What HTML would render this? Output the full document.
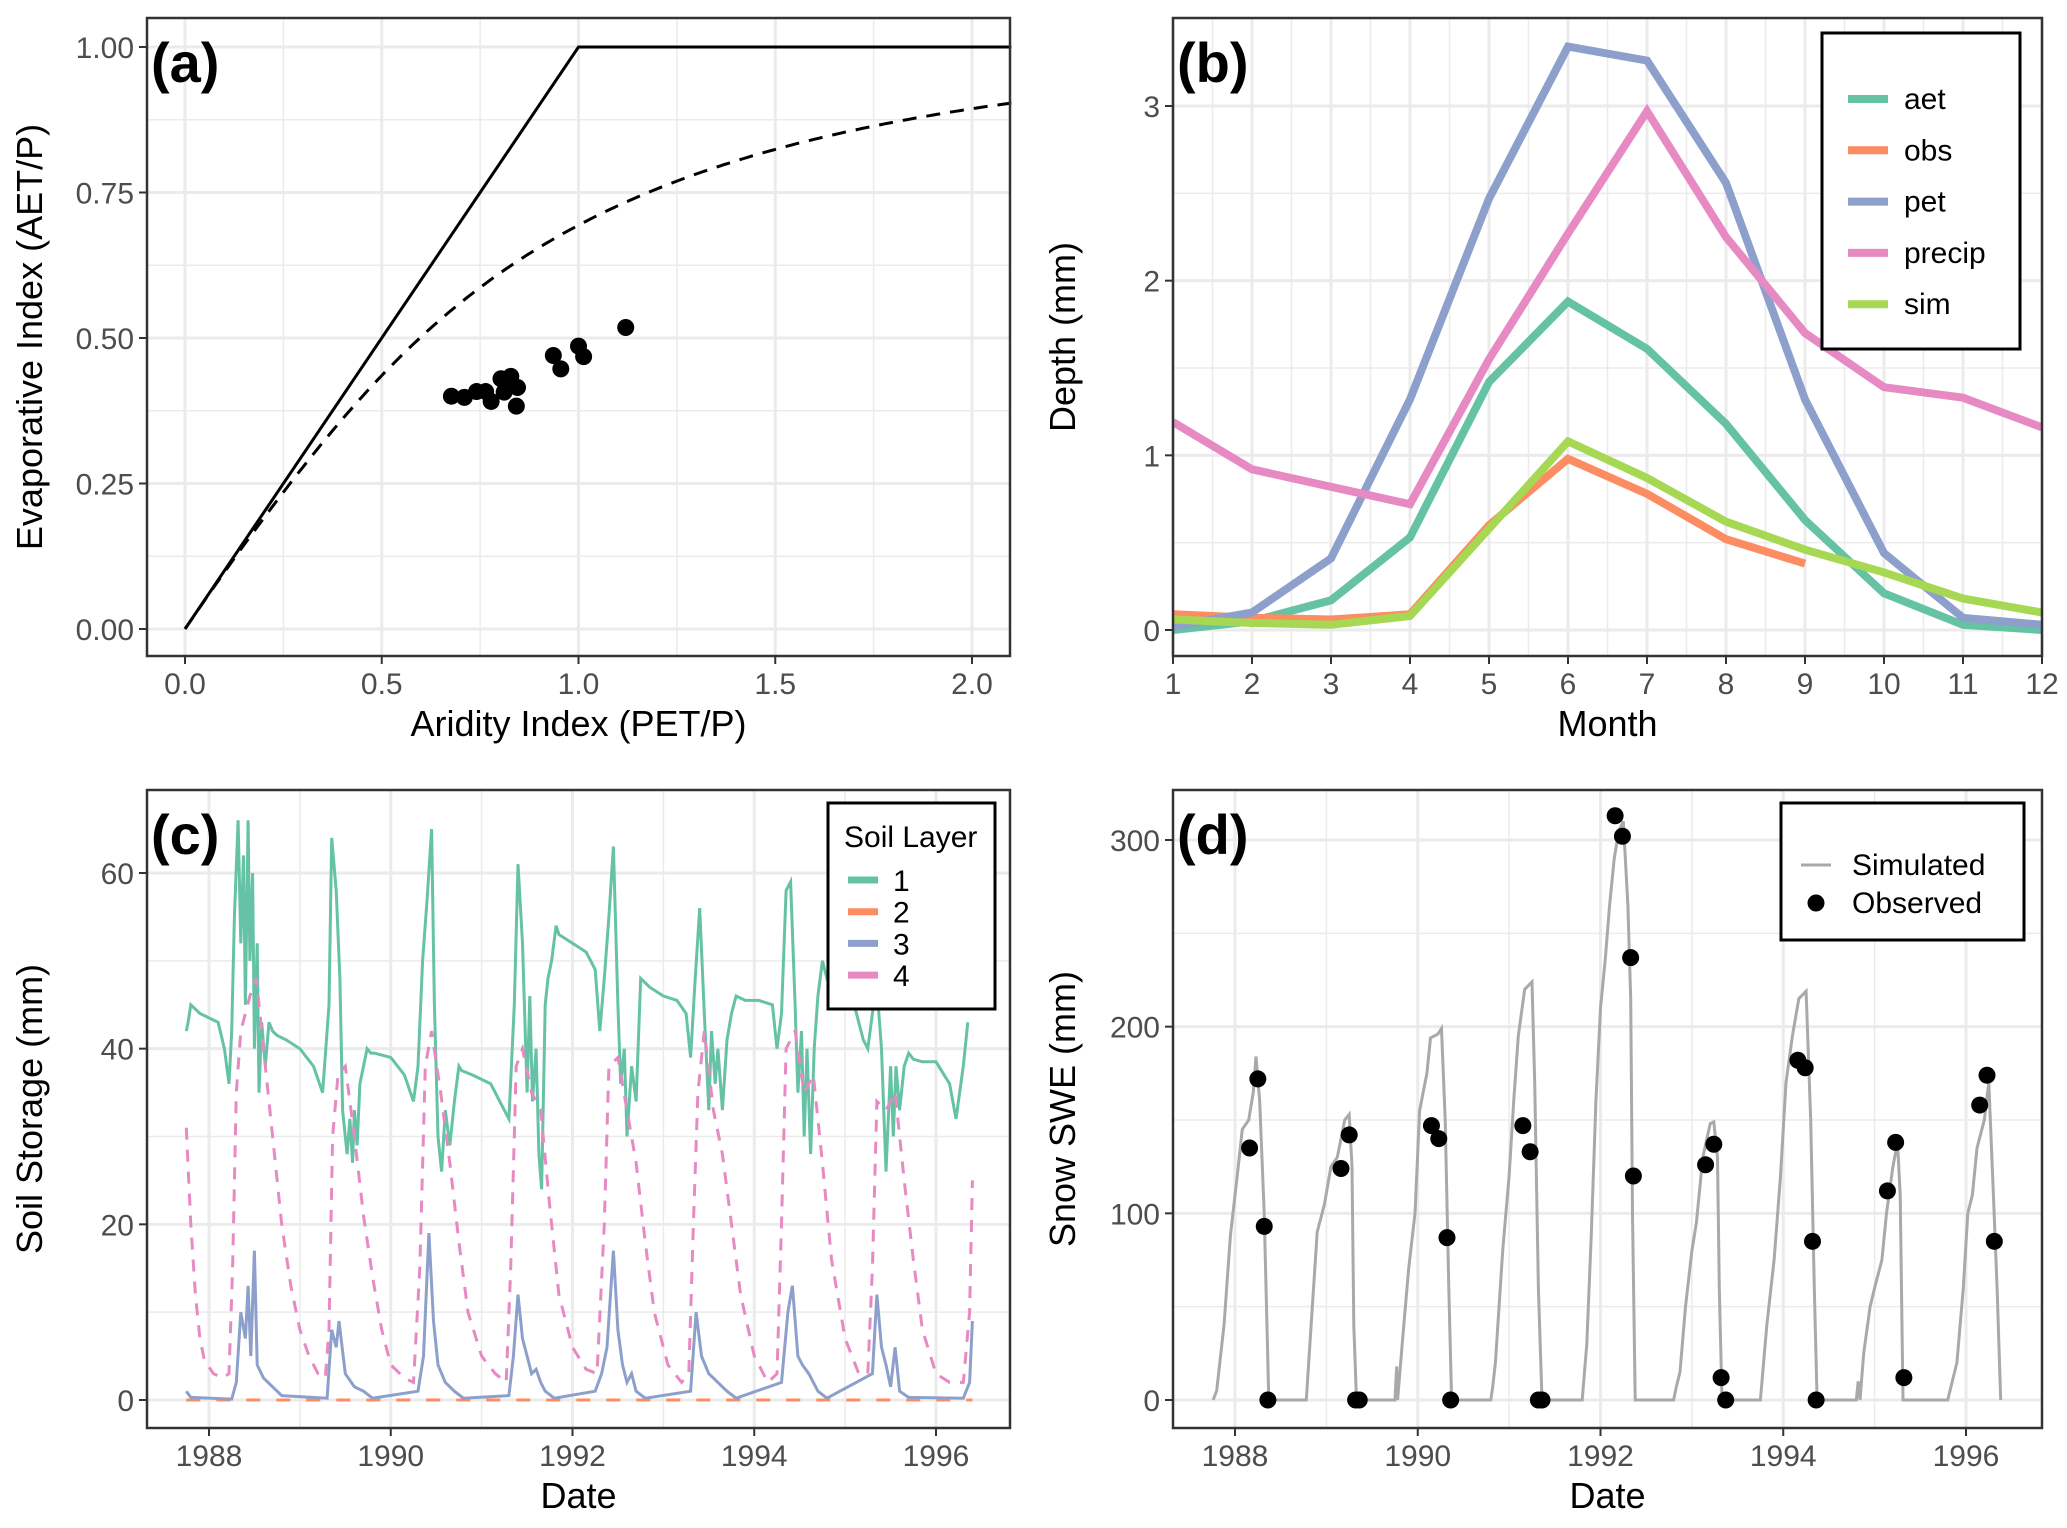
<!DOCTYPE html>
<html><head><meta charset="utf-8">
<style>
html,body{margin:0;padding:0;background:#fff;}
svg{display:block;font-family:"Liberation Sans",sans-serif;}
.tick{font-size:30px;fill:#4d4d4d;}
.atitle{font-size:36px;fill:#000;}
.tag{font-size:56px;font-weight:bold;fill:#000;}
.leg{font-size:30px;fill:#000;}
</style></head>
<body>
<svg id="fig" width="2067" height="1528" viewBox="0 0 2067 1528" xmlns="http://www.w3.org/2000/svg"></svg>
<script>
// ---------- Panel (a) data ----------
const aPtsX = [0.677,0.710,0.741,0.764,0.778,0.803,0.828,0.811,0.845,0.842,0.820,0.936,0.955,1.0,1.013,1.120];
const aPtsY = [0.400,0.398,0.408,0.408,0.391,0.430,0.434,0.407,0.415,0.383,0.419,0.470,0.447,0.486,0.468,0.518];
const aXTicks = [0,0.5,1.0,1.5,2.0];
const aXTickLabels = ["0.0","0.5","1.0","1.5","2.0"];
const aYTicks = [0,0.25,0.5,0.75,1.0];
const aYTickLabels = ["0.00","0.25","0.50","0.75","1.00"];
// ---------- Panel (b) data ----------
const months = [1,2,3,4,5,6,7,8,9,10,11,12];
const aetVals = [0.0,0.05,0.17,0.53,1.42,1.88,1.61,1.18,0.63,0.21,0.03,0.0];
const obsVals = [0.09,0.07,0.06,0.09,0.60,0.98,0.78,0.52,0.38];
const petVals = [0.02,0.10,0.41,1.32,2.47,3.34,3.26,2.56,1.32,0.44,0.07,0.03];
const precipVals = [1.19,0.92,0.82,0.72,1.55,2.27,2.97,2.25,1.70,1.39,1.33,1.16];
const simVals = [0.06,0.04,0.03,0.08,0.58,1.08,0.87,0.62,0.46,0.33,0.18,0.10];
const bYTicks = [0,1,2,3];
// ---------- Panel (c) data ----------
const l1Dates = [1987.75,1987.77,1987.8,1987.9,1988.0,1988.1,1988.17,1988.22,1988.25,1988.28,1988.32,1988.35,1988.38,1988.4,1988.43,1988.45,1988.48,1988.5,1988.53,1988.55,1988.58,1988.62,1988.66,1988.7,1988.75,1988.85,1989.0,1989.15,1989.25,1989.32,1989.35,1989.4,1989.44,1989.47,1989.52,1989.55,1989.58,1989.6,1989.63,1989.66,1989.7,1989.74,1989.78,1989.82,1990.0,1990.15,1990.25,1990.3,1990.35,1990.4,1990.45,1990.48,1990.52,1990.56,1990.6,1990.65,1990.7,1990.75,1990.78,1990.9,1991.1,1991.2,1991.3,1991.36,1991.4,1991.45,1991.5,1991.53,1991.56,1991.6,1991.63,1991.66,1991.7,1991.73,1991.77,1991.82,1991.85,1992.0,1992.15,1992.25,1992.3,1992.35,1992.4,1992.45,1992.5,1992.53,1992.57,1992.6,1992.65,1992.7,1992.75,1992.85,1993.0,1993.15,1993.25,1993.3,1993.35,1993.4,1993.45,1993.5,1993.53,1993.57,1993.6,1993.65,1993.7,1993.75,1993.8,1993.9,1994.05,1994.2,1994.25,1994.3,1994.35,1994.4,1994.45,1994.48,1994.52,1994.55,1994.58,1994.62,1994.66,1994.7,1994.75,1994.8,1994.9,1995.0,1995.1,1995.2,1995.25,1995.3,1995.35,1995.4,1995.45,1995.5,1995.53,1995.56,1995.6,1995.65,1995.7,1995.75,1995.85,1996.0,1996.15,1996.22,1996.3,1996.35,1996.38,1996.4];
const l1Vals = [42,43,45,44,43.5,43,40,36,42,55,66,52,62,45,66,50,60,40,52,35,43,38,43,42,41.5,41,40,38,35,45,64,58,48,33,28,32,27,33,29,36,38,40,39.5,39.5,39,37,34,38,50,57,65,45,30,26,33,29,34,38,37.5,37,36,34,32,45,61,52,35,46,34,40,28,24,45,48,50,54,53,52,51,49,42,48,55,63,45,36,40,30,38,34,48,47,46,45.5,44,39,48,56,44,33,42,36,40,33,41,44,46,45.5,45.5,45,40,44,58,59,45,35,42,30,40,28,40,46,50,48,49,47,45,41,40,44,47,40,26,38,30,38,33,38,39.5,38.8,38.5,38.5,36,32,38,43];
const l4Dates = [1987.75,1987.8,1987.85,1987.9,1987.95,1988.05,1988.15,1988.22,1988.26,1988.3,1988.35,1988.45,1988.52,1988.6,1988.7,1988.8,1988.9,1989.0,1989.1,1989.2,1989.28,1989.32,1989.36,1989.42,1989.5,1989.6,1989.7,1989.8,1989.9,1990.0,1990.15,1990.25,1990.32,1990.38,1990.45,1990.55,1990.65,1990.75,1990.85,1991.0,1991.15,1991.27,1991.32,1991.38,1991.45,1991.55,1991.65,1991.75,1991.85,1992.0,1992.15,1992.27,1992.35,1992.4,1992.5,1992.6,1992.7,1992.8,1992.9,1993.05,1993.2,1993.28,1993.33,1993.38,1993.45,1993.55,1993.65,1993.75,1993.85,1994.0,1994.15,1994.25,1994.3,1994.35,1994.45,1994.55,1994.65,1994.75,1994.85,1995.0,1995.15,1995.25,1995.3,1995.35,1995.45,1995.55,1995.65,1995.75,1995.85,1996.0,1996.15,1996.3,1996.37,1996.4];
const l4Vals = [31,20,12,7,4.5,3,2.5,3,15,35,42,46,48,40,30,20,13,8,5,3,2.5,8,30,37,38,30,21,14,8,4,2.5,2,15,38,42,35,27,18,10,5,3,2,15,38,40,35,33,22,12,6,3.5,3,20,38,39,33,27,18,10,4,2,3,20,35,42,33,28,20,12,5,2,3,20,40,42,35,37,27,16,7,3,3,15,34,33,35,25,16,8,3,2,2,10,25];
const l3Dates = [1987.75,1987.8,1988.25,1988.3,1988.35,1988.4,1988.43,1988.46,1988.5,1988.53,1988.6,1988.7,1988.8,1989.3,1989.35,1989.4,1989.43,1989.5,1989.6,1989.7,1989.8,1990.3,1990.36,1990.42,1990.47,1990.52,1990.6,1990.7,1990.8,1991.3,1991.35,1991.4,1991.45,1991.5,1991.55,1991.6,1991.65,1991.7,1991.8,1992.25,1992.32,1992.38,1992.45,1992.5,1992.55,1992.6,1992.65,1992.7,1992.8,1993.3,1993.36,1993.42,1993.5,1993.55,1993.6,1993.7,1993.8,1994.3,1994.37,1994.42,1994.48,1994.53,1994.6,1994.7,1994.8,1995.3,1995.35,1995.4,1995.45,1995.5,1995.55,1995.6,1995.7,1996.3,1996.37,1996.4];
const l3Vals = [1,0.3,0.1,2,10,7,13,5,17,4,2.5,1.5,0.5,0.2,8,6,9,3,1.5,1,0.2,1,5,19,9,4,2,1,0.2,0.5,5,12,7,5,3,3.5,2,1,0.2,1,3,6,17,8,4,2,3,1,0.2,1,10,5,3,2.5,2,1,0.2,2,10,13,5,4,3,1,0.2,3,12,6,4,1.5,6,1,0.3,0.2,2,9];
const l2Dates = [1987.75,1996.4];
const l2Vals = [0,0];
const yearTicks = [1988,1990,1992,1994,1996];
const cYTicks = [0,20,40,60];
// ---------- Panel (d) data ----------
const swSimDates = [1987.76,1987.8,1987.88,1987.95,1988.02,1988.08,1988.15,1988.2,1988.23,1988.27,1988.32,1988.37,1988.78,1988.82,1988.9,1988.98,1989.05,1989.12,1989.2,1989.25,1989.28,1989.3,1989.33,1989.75,1989.77,1989.78,1989.83,1989.9,1989.97,1990.02,1990.1,1990.14,1990.22,1990.26,1990.3,1990.34,1990.37,1990.8,1990.82,1990.85,1990.93,1991.0,1991.05,1991.1,1991.17,1991.25,1991.28,1991.32,1991.36,1991.8,1991.85,1991.9,1991.95,1992.0,1992.05,1992.1,1992.15,1992.2,1992.25,1992.3,1992.33,1992.35,1992.38,1992.8,1992.83,1992.87,1992.93,1993.0,1993.05,1993.12,1993.2,1993.24,1993.28,1993.3,1993.33,1993.75,1993.82,1993.9,1993.97,1994.03,1994.1,1994.17,1994.25,1994.3,1994.34,1994.37,1994.8,1994.82,1994.84,1994.88,1994.95,1995.0,1995.08,1995.13,1995.2,1995.25,1995.28,1995.31,1995.8,1995.85,1995.9,1995.97,1996.02,1996.07,1996.12,1996.2,1996.25,1996.3,1996.34,1996.38];
const swSimVals = [0,5,40,88,118,145,150,165,184,160,100,0,0,30,90,105,125,130,150,153,125,40,0,0,18,0,30,70,100,155,175,194,196,199,150,60,0,0,7,20,80,120,160,195,220,224,170,60,0,0,30,90,160,210,235,265,290,305,310,265,215,100,0,0,7,15,50,80,95,130,148,149,130,60,0,0,40,75,120,170,195,215,219,150,60,0,0,10,0,25,50,60,75,100,125,138,110,0,0,10,20,60,100,110,135,150,170,110,60,0];
const swObsDates = [1988.16,1988.25,1988.32,1988.36,1989.16,1989.25,1989.32,1989.36,1990.15,1990.23,1990.32,1990.36,1991.15,1991.23,1991.32,1991.36,1992.16,1992.24,1992.33,1992.36,1993.15,1993.24,1993.32,1993.37,1994.16,1994.24,1994.32,1994.36,1995.14,1995.23,1995.32,1996.15,1996.23,1996.31];
const swObsVals = [135,172,93,0,124,142,0,0,147,140,87,0,147,133,0,0,313,302,237,120,126,137,12,0,182,178,85,0,112,138,12,158,174,85];
const dYTicks = [0,100,200,300];

const NS = "http://www.w3.org/2000/svg";
const fig = document.getElementById("fig");
function mk(tag, attrs, parent){ const e=document.createElementNS(NS,tag); for(const k in attrs) e.setAttribute(k,attrs[k]); (parent||fig).appendChild(e); return e; }
function txt(s, attrs, parent){ const e=mk("text",attrs,parent); e.textContent=s; return e; }
function lin(d0,d1,r0,r1){ return v => r0 + (v-d0)/(d1-d0)*(r1-r0); }
function pathD(xs, ys, X, Y){ return xs.map((v,i)=>(i?"L":"M")+X(v).toFixed(1)+","+Y(ys[i]).toFixed(1)).join(""); }
const GRID="#ebebeb";

function panelFrame(g, box, X, Y, xMaj, xMin, yMaj, yMin){
  yMin.forEach(v=>{ const l=mk("line",{x1:box.l,x2:box.r,y1:Y(v),y2:Y(v),stroke:GRID,"stroke-width":1.5},g);
    
     });
  xMin.forEach(v=>{ const l=mk("line",{x1:X(v),x2:X(v),y1:box.t,y2:box.b,stroke:GRID,"stroke-width":1.5},g);
    
     });
  yMaj.forEach(v=>{ const l=mk("line",{x1:box.l,x2:box.r,y1:Y(v),y2:Y(v),stroke:GRID,"stroke-width":3},g);
    
     });
  xMaj.forEach(v=>{ const l=mk("line",{x1:X(v),x2:X(v),y1:box.t,y2:box.b,stroke:GRID,"stroke-width":3},g);
    
     });
}
function axes(g, box, X, Y, xT, xL, yT, yL, xTitle, yTitle, tag){
  const r=mk("rect",{x:box.l,y:box.t,width:box.r-box.l,height:box.b-box.t,fill:"none",stroke:"#333","stroke-width":2.5},g);
  
  
  xT.forEach((v,i)=>{ mk("line",{x1:X(v),x2:X(v),y1:box.b,y2:box.b+8,stroke:"#333","stroke-width":2},g);
    const t=txt(xL[i],{x:X(v),y:box.b+38,"text-anchor":"middle",class:"tick"},g);
    
     });
  yT.forEach((v,i)=>{ mk("line",{x1:box.l-8,x2:box.l,y1:Y(v),y2:Y(v),stroke:"#333","stroke-width":2},g);
    const t=txt(yL[i],{x:box.l-13,y:Y(v)+11,"text-anchor":"end",class:"tick"},g);
    
     });
  const xt=txt(xTitle,{x:(box.l+box.r)/2,y:box.b+80,"text-anchor":"middle",class:"atitle"},g);
  
  
  const cy=(box.t+box.b)/2, cx=box.yTitleX;
  const yt=txt(yTitle,{x:cx,y:cy,"text-anchor":"middle",class:"atitle",transform:`rotate(-90 ${cx} ${cy})`},g);
  
  
  const tg=txt(tag,{x:box.l+4,y:box.t+64,class:"tag"},g);
  
  
}

// ===== Panel A =====
(function(){
  const g=mk("g",{});  
  const box={l:147,r:1010,t:18,b:656,yTitleX:42};
  const X=lin(0,2,185,972), Y=lin(0,1,629,47);
  panelFrame(g,box,X,Y,aXTicks,[0.25,0.75,1.25,1.75],aYTicks,[0.125,0.375,0.625,0.875]);
  const lim=mk("path",{d:pathD([0,1,2.1],[0,1,1],X,Y),fill:"none",stroke:"#000","stroke-width":3},g);
  
  
  const bx=[],by=[];
  for(let i=1;i<=210;i++){ const p=i/100; bx.push(p); by.push(Math.sqrt(p*Math.tanh(1/p)*(1-Math.exp(-p)))); }
  bx.unshift(0); by.unshift(0);
  const bud=mk("path",{d:pathD(bx,by,X,Y),fill:"none",stroke:"#000","stroke-width":3,"stroke-dasharray":"14 10"},g);
  
  
  aPtsX.forEach((v,i)=>{ const c=mk("circle",{cx:X(v),cy:Y(aPtsY[i]),r:8.5,fill:"#000"},g);
    
     });
  axes(g,box,X,Y,aXTicks,aXTickLabels,aYTicks,aYTickLabels,"Aridity Index (PET/P)","Evaporative Index (AET/P)","(a)");
})();

// ===== Panel B =====
(function(){
  const g=mk("g",{});  
  const box={l:1173,r:2042,t:18,b:656,yTitleX:1075};
  const X=lin(1,12,1173,2042), Y=lin(0,3,630,106);
  const xMin=[]; for(let m=1.5;m<12;m++) xMin.push(m);
  panelFrame(g,box,X,Y,months,xMin,bYTicks,[0.5,1.5,2.5,3.5].filter(v=>Y(v)>box.t));
  const series=[["aet",aetVals,"#66c2a5"],["obs",obsVals,"#fc8d62"],["pet",petVals,"#8da0cb"],["precip",precipVals,"#e78ac3"],["sim",simVals,"#a6d854"]];
  const clip=mk("clipPath",{id:"clipb"},g); mk("rect",{x:box.l,y:box.t,width:box.r-box.l,height:box.b-box.t},clip);
  series.forEach(s=>{ const p=mk("path",{d:pathD(months.slice(0,s[1].length),s[1],X,Y),fill:"none",stroke:s[2],"stroke-width":8,"clip-path":"url(#clipb)"},g);
    
     });
  axes(g,box,X,Y,months,months.map(String),bYTicks,bYTicks.map(String),"Month","Depth (mm)","(b)");
  const lg=mk("g",{},g);  
  mk("rect",{x:1822,y:33,width:198,height:316,fill:"#fff",stroke:"#000","stroke-width":3},lg);
  series.forEach((s,i)=>{ const yy=99+i*51.3;
    const k=mk("line",{x1:1848,x2:1888,y1:yy,y2:yy,stroke:s[2],"stroke-width":8},lg);
    
    
    const t=txt(s[0],{x:1904,y:yy+10,class:"leg"},lg);
    
     });
})();

// ===== Panel C =====
(function(){
  const g=mk("g",{});  
  const box={l:147,r:1010,t:790,b:1428,yTitleX:42};
  const X=lin(1988,1996,209,936), Y=lin(0,60,1400,873);
  panelFrame(g,box,X,Y,yearTicks,[1989,1991,1993,1995],cYTicks,[10,30,50]);
  const clip=mk("clipPath",{id:"clipc"},g); mk("rect",{x:box.l,y:box.t,width:box.r-box.l,height:box.b-box.t},clip);
  const ser=[["layer-1",l1Dates,l1Vals,"#66c2a5",""],["layer-2",l2Dates,l2Vals,"#fc8d62","14 16"],["layer-3",l3Dates,l3Vals,"#8da0cb",""],["layer-4",l4Dates,l4Vals,"#e78ac3","12 10"]];
  [ser[0],ser[3],ser[1],ser[2]].forEach(s=>{ const p=mk("path",{d:pathD(s[1],s[2],X,Y),fill:"none",stroke:s[3],"stroke-width":3,"stroke-dasharray":s[4]||"none","clip-path":"url(#clipc)"},g);
    
     });
  axes(g,box,X,Y,yearTicks,yearTicks.map(String),cYTicks,cYTicks.map(String),"Date","Soil Storage (mm)","(c)");
  const lg=mk("g",{},g);  
  mk("rect",{x:828,y:803,width:167,height:206,fill:"#fff",stroke:"#000","stroke-width":3},lg);
  const lt=txt("Soil Layer",{x:844,y:847,class:"leg","font-size":"26"},lg);
  
  
  ser.forEach((s,i)=>{ const yy=880+i*31.7;
    const k=mk("line",{x1:848,x2:878,y1:yy,y2:yy,stroke:s[3],"stroke-width":7},lg);
    
    
    const t=txt(String(i+1),{x:893,y:yy+11,class:"leg"},lg);
    
     });
})();

// ===== Panel D =====
(function(){
  const g=mk("g",{});  
  const box={l:1173,r:2042,t:790,b:1428,yTitleX:1075};
  const X=lin(1988,1996,1235,1966), Y=lin(0,300,1400,840);
  panelFrame(g,box,X,Y,yearTicks,[1989,1991,1993,1995],dYTicks,[50,150,250]);
  const p=mk("path",{d:pathD(swSimDates,swSimVals,X,Y),fill:"none",stroke:"#a9a9a9","stroke-width":3},g);
  
  
  swObsDates.forEach((v,i)=>{ const c=mk("circle",{cx:X(v),cy:Y(swObsVals[i]),r:8.5,fill:"#000"},g);
    
     });
  axes(g,box,X,Y,yearTicks,yearTicks.map(String),dYTicks,dYTicks.map(String),"Date","Snow SWE (mm)","(d)");
  const lg=mk("g",{},g);  
  mk("rect",{x:1781,y:803,width:243,height:137,fill:"#fff",stroke:"#000","stroke-width":3},lg);
  const k1=mk("line",{x1:1801,x2:1831,y1:865,y2:865,stroke:"#a9a9a9","stroke-width":3},lg);
  
  
  const t1=txt("Simulated",{x:1852,y:875,class:"leg"},lg);
  
  
  const k2=mk("circle",{cx:1816,cy:903,r:8.5,fill:"#000"},lg);
  
  
  const t2=txt("Observed",{x:1852,y:913,class:"leg"},lg);
  
  
})();
</script>
</body></html>
